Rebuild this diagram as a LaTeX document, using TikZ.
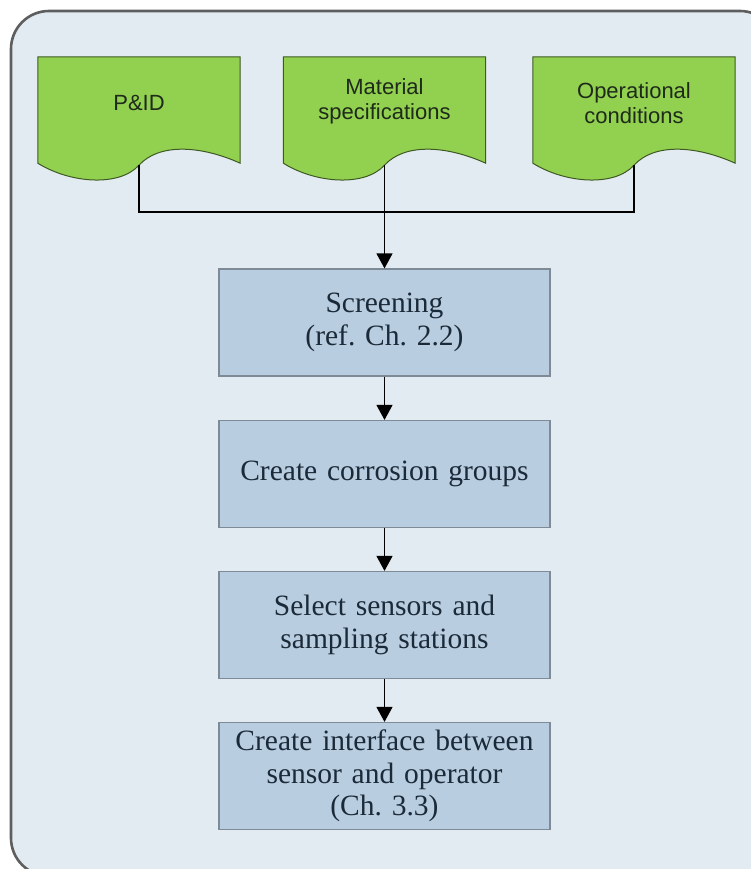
\documentclass[tikz,border=0pt]{standalone}
\usepackage{fontspec}
\setmainfont{Liberation Serif}
\newfontfamily\docfont{Liberation Sans}
\usetikzlibrary{arrows.meta,calc}
\frenchspacing

\definecolor{panelbg}{HTML}{E2EBF2}
\definecolor{panelrim}{HTML}{5E5E5E}
\definecolor{docgreen}{HTML}{92D050}
\definecolor{docrim}{HTML}{3E5A22}
\definecolor{stepfill}{HTML}{B9CDE0}
\definecolor{steprim}{HTML}{7E8A96}
\definecolor{steptext}{HTML}{1B2A38}
\definecolor{doctext}{HTML}{1E2A1A}

\tikzset{
  panel/.style={draw=panelrim, fill=panelbg, line width=2.6pt, rounded corners=38pt},
  docnode/.style={minimum width=202pt, minimum height=106pt, inner sep=0pt},
  doclabel/.style={inner sep=0pt, align=center,
    font=\docfont\fontsize{22}{25}\selectfont, text=doctext},
  docpath/.style={draw=docrim, fill=docgreen, line width=1pt},
  stepbox/.style={draw=steprim, fill=stepfill, line width=1.2pt,
    minimum width=331pt, minimum height=107pt, inner sep=0pt, align=center,
    text width=325pt, font=\fontsize{29.5}{32.5}\selectfont, text=steptext},
  conn/.style={draw=black, line width=1.2pt},
  flow/.style={conn, -{Triangle[width=16pt,length=15pt]}},
}

% document symbol with a wavy lower edge, drawn round a named node
\newcommand{\docshape}[1]{%
  \path[docpath] (#1.north west) -- (#1.north east) -- (#1.south east)
    .. controls ($(#1.south east)+(-40,-18)$) and ($(#1.south)+(20,-20)$) .. ($(#1.south)+(0,2)$)
    .. controls ($(#1.south)+(-20,24)$) and ($(#1.south west)+(32,20)$) .. (#1.south west)
    -- cycle;
  \coordinate (#1-w) at ($(#1.south)+(0,2)$);}

\begin{document}
\begin{tikzpicture}[x=1pt,y=-1pt]
\useasboundingbox (0,0) rectangle (751,869);

% background panel
\path[panel] (11,11) rectangle (778,876);

% input documents
\node[docnode] (pid) at (139,110) {};
\node[docnode] (mat) at (384.5,110) {};
\node[docnode] (opr) at (634,110) {};
\docshape{pid}
\docshape{mat}
\docshape{opr}
\node[doclabel] (pidtext) at ($(pid)+(0,-7)$) {P\&ID};
\node[doclabel] (mattext) at ($(mat)+(0,-9)$) {Material\\specifications};
\node[doclabel] (oprtext) at ($(opr)+(0,-7)$) {Operational\\conditions};

% process steps
\node[stepbox] (scr) at (384.5,322.5) {Screening\\(ref. Ch. 2.2)};
\node[stepbox] (crg) at (384.5,474) {Create corrosion groups};
\node[stepbox] (sel) at (384.5,625) {Select sensors and\\sampling stations};
\node[stepbox] (ifc) at (384.5,776) {Create interface between\\sensor and operator\\(Ch. 3.3)};

% collecting line under the documents
\coordinate (bus) at (384.5,212);
\draw[conn] (pid-w) -- (pid-w |- bus) -- (opr-w |- bus) -- (opr-w);

% flow arrows
\draw[flow] (mat-w) -- (scr.north);
\draw[flow] (scr.south) -- (crg.north);
\draw[flow] (crg.south) -- (sel.north);
\draw[flow] (sel.south) -- (ifc.north);
\end{tikzpicture}
\end{document}
